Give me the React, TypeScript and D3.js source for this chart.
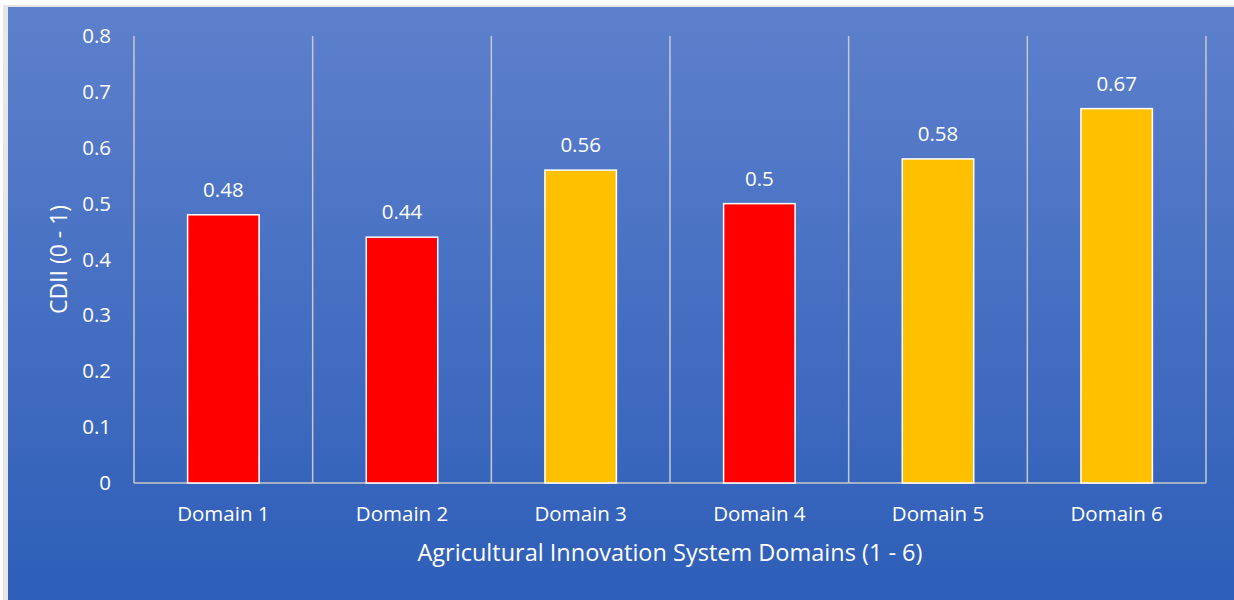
import React from "react";
import * as d3 from "d3";

const categories = ["Domain 1", "Domain 2", "Domain 3", "Domain 4", "Domain 5", "Domain 6"];
const values = [0.48, 0.44, 0.56, 0.5, 0.58, 0.67];
const barColors = ["#ff0000", "#ff0000", "#ffc000", "#ff0000", "#ffc000", "#ffc000"];
const yTicks = [0, 0.1, 0.2, 0.3, 0.4, 0.5, 0.6, 0.7, 0.8];
const yTitle = "CDII (0 - 1)";
const xTitle = "Agricultural Innovation System Domains (1 - 6)";

const W = 1234;
const H = 600;
const plot = { left: 134, right: 1206, top: 36, bottom: 483 };
const font = "'Open Sans', 'Noto Sans', sans-serif";

export default function App() {
  const x = d3.scaleBand<string>().domain(categories).range([plot.left, plot.right]).paddingInner(0).paddingOuter(0);
  const y = d3.scaleLinear().domain([0, 0.8]).range([plot.bottom, plot.top]);
  const bw = x.bandwidth() * 0.4;
  const bounds = categories.map((c) => x(c)!).concat([plot.right]);

  return (
    <svg width={W} height={H} style={{ position: "absolute", left: 0, top: 0, display: "block" }}>
      <defs>
        <linearGradient id="bg" x1="0" y1="0" x2="0" y2="1">
          <stop offset="0" stopColor="#5d80cc" />
          <stop offset="1" stopColor="#2e5eb8" />
        </linearGradient>
      </defs>
      <rect x={0} y={0} width={W} height={H} fill="#ffffff" />
      <rect x={3} y={5} width={W} height={H} fill="#e6e6e6" />
      <rect x={8} y={7} width={W - 8} height={H - 7} fill="url(#bg)" />
      {bounds.map((bx, i) => (
        <line key={i} x1={bx} x2={bx} y1={plot.top} y2={plot.bottom} stroke="#c8c8c8" strokeWidth={1.5} />
      ))}
      <line x1={plot.left} x2={plot.right} y1={plot.bottom} y2={plot.bottom} stroke="#c8c8c8" strokeWidth={1.5} />
      {categories.map((c, i) => {
        const cx = x(c)! + x.bandwidth() / 2;
        return (
          <g key={c}>
            <rect x={cx - bw / 2} y={y(values[i])} width={bw} height={plot.bottom - y(values[i])} fill={barColors[i]} stroke="#ffffff" strokeWidth={1.5} />
            <text x={cx} y={y(values[i]) - 18} textAnchor="middle" fill="#ffffff" fontFamily={font} fontSize={20.5}>
              {String(values[i])}
            </text>
            <text x={cx} y={plot.bottom + 38} textAnchor="middle" fill="#ffffff" fontFamily={font} fontSize={20.5}>
              {c}
            </text>
          </g>
        );
      })}
      {yTicks.map((t) => (
        <text key={t} x={111} y={y(t) + 7} textAnchor="end" fill="#ffffff" fontFamily={font} fontSize={20.5}>
          {String(t)}
        </text>
      ))}
      <text transform={`translate(67,${(plot.top + plot.bottom) / 2}) rotate(-90)`} textAnchor="middle" fill="#ffffff" fontFamily={font} fontSize={23}>
        {yTitle}
      </text>
      <text x={(plot.left + plot.right) / 2} y={561} textAnchor="middle" fill="#ffffff" fontFamily={font} fontSize={23.5}>
        {xTitle}
      </text>
    </svg>
  );
}
